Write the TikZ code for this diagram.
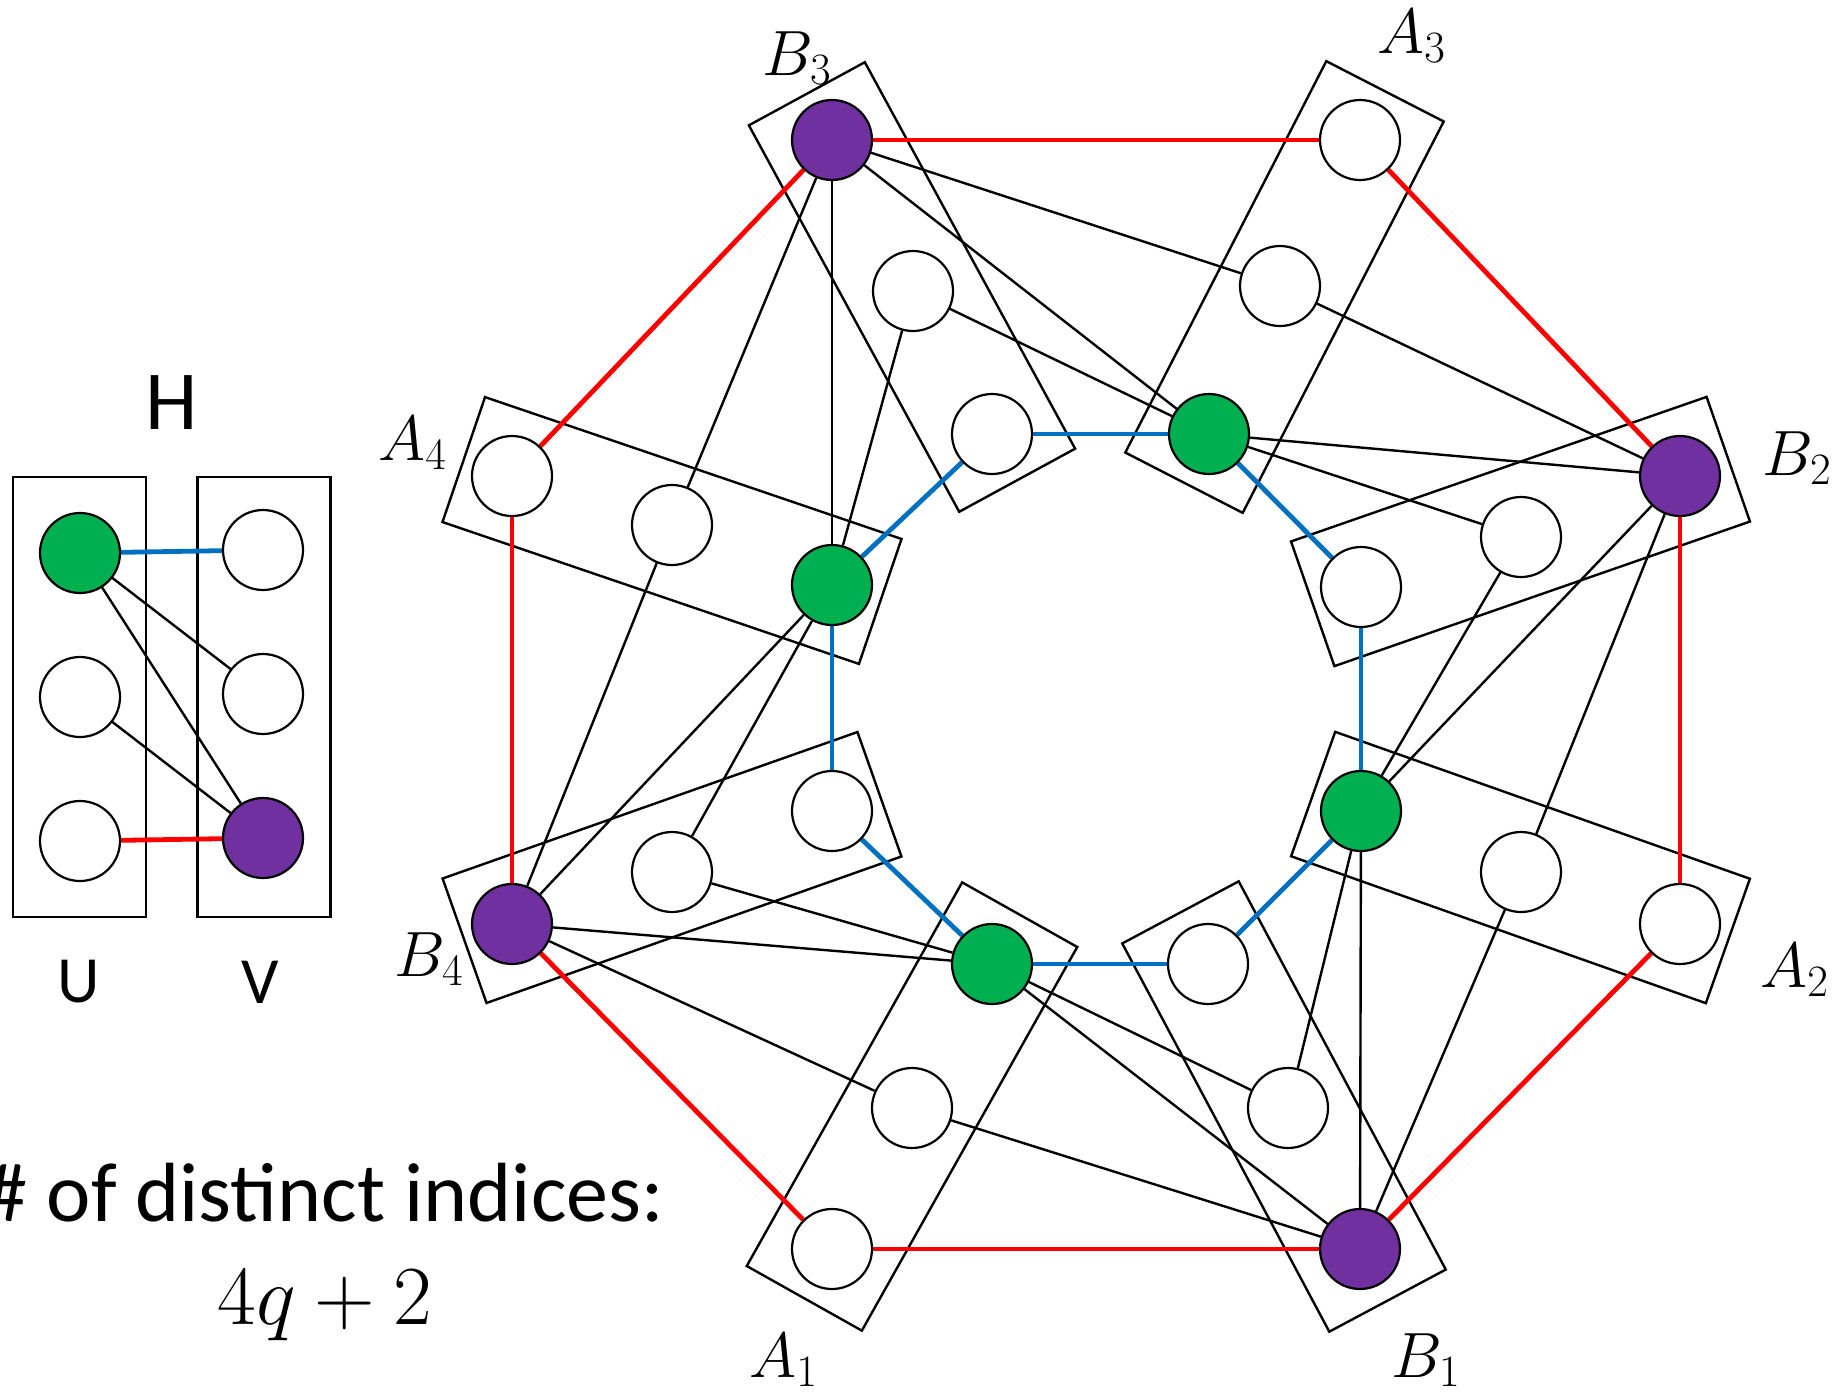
\RequirePackage{fix-cm}
\documentclass[tikz,border=0pt]{standalone}
\usepackage[no-math]{fontspec}
\newfontfamily\calib{Carlito}
\usetikzlibrary{calc}
\pgfdeclarelayer{bg}
\pgfsetlayers{bg,main}
\definecolor{pgreen}{HTML}{00B050}
\definecolor{ppurple}{HTML}{7030A0}
\definecolor{pblue}{HTML}{0070C0}
\definecolor{pred}{HTML}{FF0000}
\begin{document}
\begin{tikzpicture}[x=0.5pt,y=-0.5pt,
  vtx/.style={circle, draw=black, line width=1.1pt, fill=white, minimum size=40pt, inner sep=0pt},
  gv/.style={vtx, fill=pgreen},
  pv/.style={vtx, fill=ppurple},
  part/.style={draw=black, line width=1.2pt, rectangle, inner sep=0pt, minimum width=220pt, minimum height=66pt},
  vpart/.style={draw=black, line width=1.2pt, rectangle, inner sep=0pt, minimum width=66.5pt, minimum height=220pt},
  blk/.style={draw=black, line width=1.2pt},
  redE/.style={draw=pred, line width=2.4pt},
  blueE/.style={draw=pblue, line width=2.4pt},
  lbl/.style={anchor=base west, inner sep=0pt, font=\fontsize{32}{38}\selectfont},
  sanslbl/.style={anchor=base, inner sep=0pt, font=\calib\fontsize{33}{40}\selectfont},
  bigtxt/.style={anchor=base, inner sep=0pt, font=\calib\fontsize{42}{50}\selectfont},
]
\useasboundingbox (0,0) rectangle (1833,1393);

% ---------- H ----------
\node[bigtxt] (labH) at (171.5,429) {H};
\node[gv] (u1) at (80,553) {};
\node[vtx] (u2) at (80,697) {};
\node[vtx] (u3) at (80,841) {};
\node[vtx] (v1) at (263,550) {};
\node[vtx] (v2) at (263,694) {};
\node[pv] (v3) at (263,838) {};
\node[sanslbl] (labU) at (79,1002) {U};
\node[sanslbl] (labV) at (260.5,1003) {V};

% ---------- main graph nodes ----------
\node[pv] (B3o) at (832,140) {};
\node[vtx] (B3m) at (913,291) {};
\node[vtx] (B3i) at (992,434) {};
\node[vtx] (A3o) at (1360,140) {};
\node[vtx] (A3m) at (1280,286) {};
\node[gv] (A3i) at (1209,434) {};
\node[pv] (B2o) at (1680,476) {};
\node[vtx] (B2m) at (1521,537) {};
\node[vtx] (B2i) at (1361,587) {};
\node[vtx] (A2o) at (1680,924) {};
\node[vtx] (A2m) at (1521,872) {};
\node[gv] (A2i) at (1361,811) {};
\node[pv] (B1o) at (1360,1249) {};
\node[vtx] (B1m) at (1288,1108) {};
\node[vtx] (B1i) at (1208,964) {};
\node[vtx] (A1o) at (832,1249) {};
\node[vtx] (A1m) at (912,1108) {};
\node[gv] (A1i) at (992,964) {};
\node[pv] (B4o) at (512,924) {};
\node[vtx] (B4m) at (672,872) {};
\node[vtx] (B4i) at (832,811) {};
\node[vtx] (A4o) at (512,476) {};
\node[vtx] (A4m) at (672,525) {};
\node[gv] (A4i) at (832,585) {};

% ---------- labels ----------
\node[lbl] (labA4) at (378,460) {$A_4$};
\node[lbl] (labB3) at (762,75) {$B_3$};
\node[lbl] (labA3) at (1377,53) {$A_3$};
\node[lbl] (labB2) at (1762,475) {$B_2$};
\node[lbl] (labA2) at (1760,987) {$A_2$};
\node[lbl] (labB1) at (1391,1377) {$B_1$};
\node[lbl] (labA1) at (749,1377) {$A_1$};
\node[lbl] (labB4) at (394,976) {$B_4$};

\node[bigtxt] (txt1) at (325,1221) {\# of distinct indices:};
\node[inner sep=0pt, anchor=base, font=\fontsize{42}{50}\selectfont] (txt2) at (325,1324) {$4q+2$};

\begin{pgfonlayer}{bg}
  % H boxes and edges
  \node[vpart] (boxU) at (79.5,697) {};
  \node[vpart] (boxV) at (264,697) {};
  \draw[blueE] (u1) -- (v1);
  \draw[blk] (u1) -- (v2);
  \draw[blk] (u1) -- (v3);
  \draw[blk] (u2) -- (v3);
  \draw[redE] (u3) -- (v3);

  % rotated part boxes
  \foreach \g in {A1,A2,A3,A4,B1,B2,B3,B4} {
    \path let \p1=($(\g i)-(\g o)$), \n1={atan2(\y1,\x1)} in
      node[part, rotate=\n1] (box\g) at ($(\g o)!0.5!(\g i)$) {};
  }
  % edges between adjacent parts
  \foreach \xa/\xb in {A4/B3, A3/B3, A3/B2, A2/B2, A2/B1, A1/B1, A1/B4, A4/B4} {
    \draw[redE] (\xa o) -- (\xb o);
    \draw[blueE] (\xa i) -- (\xb i);
    \draw[blk] (\xa i) -- (\xb m);
    \draw[blk] (\xa i) -- (\xb o);
    \draw[blk] (\xa m) -- (\xb o);
  }
\end{pgfonlayer}
\end{tikzpicture}
\end{document}
